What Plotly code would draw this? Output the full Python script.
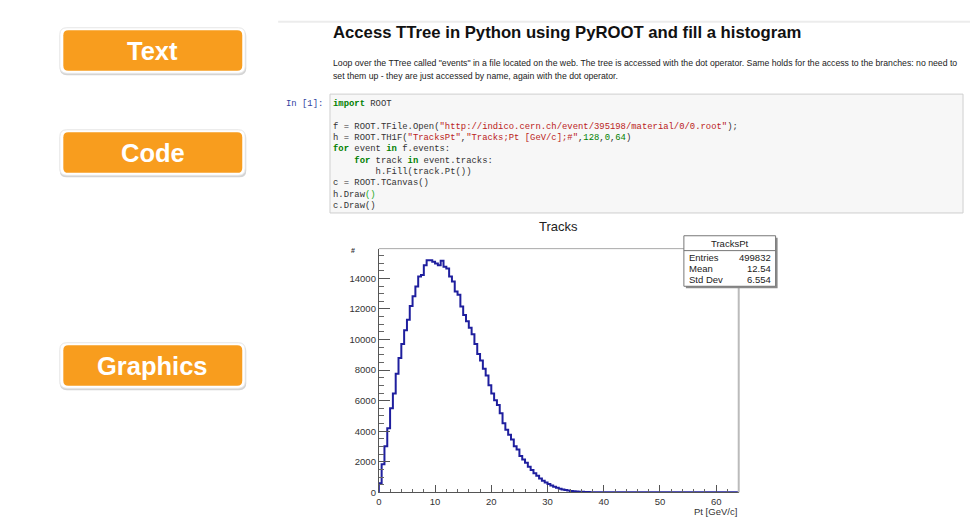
import plotly.graph_objects as go

W, H = 970, 530

# ---------------- data ----------------
bin_low = 0.0
bin_width = 0.5
counts = [600, 1830, 3020, 4200, 5500, 6470, 7760, 8790, 9700, 10600,
          11300, 12200, 12830, 13470, 14120, 14230, 14870, 15190, 15190, 15085,
          14977, 14870, 15150, 14760, 14650, 14120, 13800, 13150, 12930, 12170,
          11600, 11200, 10775, 10340, 9700, 9050, 8620, 8080, 7650, 7000,
          6465, 6030, 5710, 5170, 4525, 4095, 3770, 3450, 3020, 2800,
          2370, 2155, 1940, 1680, 1465, 1250, 1080, 905, 755, 645,
          540, 450, 370, 300, 240, 190, 150, 115, 90, 70,
          55, 40, 30, 22, 16, 12, 9, 6, 4, 3,
          2, 1, 1, 1, 0, 0, 0, 0, 0, 0,
          0, 0, 0, 0, 0, 0, 0, 0, 0, 0,
          0, 0, 0, 0, 0, 0, 0, 0, 0, 0,
          0, 0, 0, 0, 0, 0, 0, 0, 0, 0,
          0, 0, 0, 0, 0, 0, 0, 0]
x_range = [0, 64]
y_range = [0, 15950]
x_ticks = [0, 10, 20, 30, 40, 50, 60]
y_ticks = [0, 2000, 4000, 6000, 8000, 10000, 12000, 14000]

stats_title = "TracksPt"
stats_labels = ["Entries", "Mean", "Std Dev"]
stats_values = ["499832", "12.54", "6.554"]

button_labels = ["Text", "Code", "Graphics"]

title_text = "Access TTree in Python using PyROOT and fill a histogram"
para_lines = [
    'Loop over the TTree called "events" in a file located on the web. The tree is accessed with the dot operator. Same holds for the access to the branches: no need to',
    'set them up - they are just accessed by name, again with the dot operator.',
]

GREEN = "#008000"
RED = "#BA2121"
code_lines = [
    [("import", GREEN, True), (" ROOT", None, False)],
    [],
    [("f = ROOT.TFile.Open(", None, False), ('"http://indico.cern.ch/event/395198/material/0/0.root"', RED, False), (");", None, False)],
    [("h = ROOT.TH1F(", None, False), ('"TracksPt"', RED, False), (",", None, False), ('"Tracks;Pt [GeV/c];#"', RED, False),
     (",", None, False), ("128", GREEN, False), (",", None, False), ("0", GREEN, False), (",", None, False), ("64", GREEN, False), (")", None, False)],
    [("for", GREEN, True), (" event ", None, False), ("in", GREEN, True), (" f.events:", None, False)],
    [("    ", None, False), ("for", GREEN, True), (" track ", None, False), ("in", GREEN, True), (" event.tracks:", None, False)],
    [("        h.Fill(track.Pt())", None, False)],
    [("c = ROOT.TCanvas()", None, False)],
    [("h.Draw", None, False), ("()", "#22aa22", False)],
    [("c.Draw()", None, False)],
]

# ---------------- helpers ----------------
def px(x):
    return x / W

def py(y):
    return 1 - y / H

def rounded_path(x0, y0, x1, y1, r):
    rx, ry = r / W, r / H
    X0, X1 = px(x0), px(x1)
    Y0, Y1 = py(y0), py(y1)
    return (f"M {X0+rx},{Y0} L {X1-rx},{Y0} Q {X1},{Y0} {X1},{Y0-ry} "
            f"L {X1},{Y1+ry} Q {X1},{Y1} {X1-rx},{Y1} L {X0+rx},{Y1} "
            f"Q {X0},{Y1} {X0},{Y1+ry} L {X0},{Y0-ry} Q {X0},{Y0} {X0+rx},{Y0} Z")

def esc(s):
    return s.replace("&", "&amp;").replace("<", "&lt;").replace(">", "&gt;").replace(" ", "\u00a0")

shapes = []
annotations = []

# ---------------- buttons ----------------
ORANGE = "#F89D1E"
button_tops = [28, 131, 346]
for lab, top in zip(button_labels, button_tops):
    shapes.append(dict(type="path", xref="paper", yref="paper", layer="below",
                       path=rounded_path(57, top + 2, 244, top + 48, 7),
                       fillcolor="#d4d4d4", line=dict(width=0)))
    shapes.append(dict(type="path", xref="paper", yref="paper", layer="below",
                       path=rounded_path(57, top, 243, top + 46, 7),
                       fillcolor="#ffffff", line=dict(color="#e6e6e6", width=1)))
    shapes.append(dict(type="path", xref="paper", yref="paper", layer="below",
                       path=rounded_path(60.5, top + 2.5, 240, top + 43.5, 5),
                       fillcolor=ORANGE, line=dict(width=0)))
    annotations.append(dict(xref="paper", yref="paper", x=px(150), y=py(top + 23.5),
                            text=f"<b>{lab}</b>", showarrow=False, xanchor="center", yanchor="middle",
                            font=dict(family="Liberation Sans, Arial", size=25.5, color="white")))

# ---------------- notebook page ----------------
TX = 329  # left text edge (annotation anchor, padding compensated)
shapes.append(dict(type="line", xref="paper", yref="paper", layer="below",
                   x0=px(276), x1=1, y0=py(22), y1=py(22), line=dict(color="#ececec", width=2)))

annotations.append(dict(xref="paper", yref="paper", x=px(TX), y=py(33), text=f"<b>{title_text}</b>",
                        showarrow=False, xanchor="left", yanchor="middle",
                        font=dict(family="Liberation Sans, Arial", size=16.7, color="#111111")))
for i, line in enumerate(para_lines):
    annotations.append(dict(xref="paper", yref="paper", x=px(TX), y=py(64 + 13 * i), text=line,
                            showarrow=False, xanchor="left", yanchor="middle",
                            font=dict(family="Liberation Sans, Arial", size=8.7, color="#222222")))

# code cell
shapes.append(dict(type="rect", xref="paper", yref="paper", layer="below",
                   x0=px(328), x1=px(963), y0=py(95), y1=py(215),
                   fillcolor="#f7f7f7", line=dict(color="#cfcfcf", width=1)))
annotations.append(dict(xref="paper", yref="paper", x=px(323), y=py(104.5), text="In\u00a0[1]:",
                        showarrow=False, xanchor="right", yanchor="middle",
                        font=dict(family="Liberation Mono, DejaVu Sans Mono, monospace", size=8.9, color="#303F9F")))
line_y0 = 105
line_dy = 11.45
for i, segs in enumerate(code_lines):
    if not segs:
        continue
    parts = []
    for txt, col, bold in segs:
        t = esc(txt)
        if col:
            t = f'<span style="color:{col}">{t}</span>'
        if bold:
            t = f"<b>{t}</b>"
        parts.append(t)
    annotations.append(dict(xref="paper", yref="paper", x=px(TX), y=py(line_y0 + line_dy * i),
                            text="".join(parts), showarrow=False, xanchor="left", yanchor="middle",
                            font=dict(family="Liberation Mono, DejaVu Sans Mono, monospace", size=8.9, color="#333333")))

# ---------------- histogram ----------------
edges = [bin_low + bin_width * i for i in range(len(counts) + 1)]
xs = [edges[0]] + edges
ys = [0] + counts + [counts[-1]]

fx0, fx1, fy0, fy1 = 377, 738, 251, 497  # frame in pixels

fig = go.Figure()
fig.add_trace(go.Scatter(x=xs, y=ys, mode="lines", line=dict(shape="hv", color="#1f1f9e", width=2),
                         hoverinfo="skip", cliponaxis=True))

axfont = dict(family="Liberation Sans, Arial", size=9.5, color="#333333")
fig.update_xaxes(domain=[px(fx0), px(fx1)], range=x_range, tickvals=x_ticks, ticktext=[str(v) for v in x_ticks],
                 ticks="inside", ticklen=7,
                 tickcolor="#555555", tickwidth=1, showline=True, linecolor="#555555", linewidth=1,
                 showgrid=False, zeroline=False, tickfont=axfont,
                 minor=dict(dtick=2, tick0=0, ticks="inside", ticklen=3.5, tickcolor="#666666", showgrid=False))
fig.update_yaxes(domain=[py(fy1), py(fy0)], range=y_range, tickvals=y_ticks, ticktext=[str(v) for v in y_ticks],
                 ticks="inside", ticklen=11,
                 tickcolor="#555555", tickwidth=1, showline=True, linecolor="#555555", linewidth=1,
                 showgrid=False, zeroline=False, tickfont=axfont,
                 minor=dict(dtick=500, tick0=0, ticks="inside", ticklen=5.5, tickcolor="#666666", showgrid=False))

# frame top / right
shapes.append(dict(type="line", xref="paper", yref="paper", x0=px(fx0), x1=px(fx1), y0=py(fy0), y1=py(fy0),
                   line=dict(color="#aaaaaa", width=1)))
shapes.append(dict(type="line", xref="paper", yref="paper", x0=px(fx1), x1=px(fx1), y0=py(fy0), y1=py(fy1),
                   line=dict(color="#bbbbbb", width=2)))

# histogram title and axis titles
annotations.append(dict(xref="paper", yref="paper", x=px(557), y=py(229), text="Tracks", showarrow=False,
                        xanchor="center", yanchor="middle",
                        font=dict(family="Liberation Sans, Arial", size=13, color="#222222")))
annotations.append(dict(xref="paper", yref="paper", x=px(738), y=py(516), text="Pt [GeV/c]", showarrow=False,
                        xanchor="right", yanchor="middle",
                        font=dict(family="Liberation Sans, Arial", size=9.5, color="#333333")))
annotations.append(dict(xref="paper", yref="paper", x=px(351), y=py(253), text="<b>#</b>", showarrow=False,
                        xanchor="center", yanchor="middle",
                        font=dict(family="Liberation Sans, Arial", size=7, color="#333333")))

# stats box
bx0, bx1, by0, by1 = 683, 775, 238, 289
shapes.append(dict(type="rect", xref="paper", yref="paper", x0=px(bx0 + 2), x1=px(bx1 + 2), y0=py(by0 + 2), y1=py(by1 + 2),
                   fillcolor="#8a8a8a", line=dict(width=0)))
shapes.append(dict(type="rect", xref="paper", yref="paper", x0=px(bx0), x1=px(bx1), y0=py(by0), y1=py(by1),
                   fillcolor="white", line=dict(color="#777777", width=1)))
shapes.append(dict(type="line", xref="paper", yref="paper", x0=px(bx0), x1=px(bx1), y0=py(253), y1=py(253),
                   line=dict(color="#777777", width=1)))
sfont = dict(family="Liberation Sans, Arial", size=9.5, color="#222222")
annotations.append(dict(xref="paper", yref="paper", x=px((bx0 + bx1) / 2), y=py(245.5), text=stats_title,
                        showarrow=False, xanchor="center", yanchor="middle", font=sfont))
for i, (lab, val) in enumerate(zip(stats_labels, stats_values)):
    yy = py(259.5 + 11.5 * i)
    annotations.append(dict(xref="paper", yref="paper", x=px(bx0 + 3.5), y=yy, text=lab, showarrow=False,
                            xanchor="left", yanchor="middle", font=sfont))
    annotations.append(dict(xref="paper", yref="paper", x=px(bx1 - 2.5), y=yy, text=val, showarrow=False,
                            xanchor="right", yanchor="middle", font=sfont))

fig.update_layout(width=W, height=H, margin=dict(l=0, r=0, t=0, b=0), paper_bgcolor="white",
                  plot_bgcolor="white", showlegend=False, shapes=shapes, annotations=annotations)

fig.write_html("out.html", config={"displayModeBar": False},
               post_script="document.body.style.margin='0';document.body.style.overflow='hidden';")
